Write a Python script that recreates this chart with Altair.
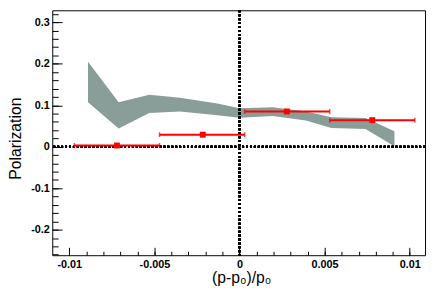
import altair as alt
import pandas as pd

# Band (model prediction)
band_x = [-0.0089, -0.0071, -0.0053, -0.0035, -0.0013, 0.0, 0.00195, 0.0039, 0.0054, 0.0074, 0.0091]
band_lo = [0.107, 0.044, 0.081, 0.085, 0.076, 0.070, 0.074, 0.063, 0.045, 0.043, 0.001]
band_hi = [0.205, 0.107, 0.125, 0.118, 0.104, 0.093, 0.095, 0.085, 0.071, 0.069, 0.037]

# Data points
pt_x = [-0.0072, -0.00216, 0.00278, 0.0078]
pt_y = [0.003, 0.029, 0.085, 0.064]
pt_xlo = [-0.0097, -0.0047, 0.0003, 0.0053]
pt_xhi = [-0.0047, 0.0003, 0.0053, 0.0103]

# Axis ticks
y_major = [-0.2, -0.1, 0, 0.1, 0.2, 0.3]
y_minor = [round(-0.26 + 0.02 * i, 2) for i in range(30) if -0.26 + 0.02 * i <= 0.33]
x_major = [-0.01, -0.005, 0, 0.005, 0.01]
x_minor = [round(-0.01 + 0.001 * i, 3) for i in range(21)]

XDOM = [-0.011, 0.0109]
YDOM = [-0.2614, 0.3287]
W, H = 379, 249

band = pd.DataFrame({"x": band_x, "lo": band_lo, "hi": band_hi})
pts = pd.DataFrame({"x": pt_x, "y": pt_y, "xlo": pt_xlo, "xhi": pt_xhi})

xs = alt.Scale(domain=XDOM, nice=False, zero=False)
ys = alt.Scale(domain=YDOM, nice=False, zero=False)

FONT = "Liberation Sans"
RED = "#ff0000"

lab_common = dict(domain=False, ticks=False, grid=False, labelFont=FONT, labelFontSize=11,
                  labelFontWeight="bold", labelColor="black", titleFont=FONT,
                  titleFontSize=16, titleFontWeight="normal", titleColor="black")

x_lab_axis = alt.Axis(values=x_major, labelExpr="'' + datum.value", labelPadding=3,
                      title="(p-p₀)/p₀", titleX=192, titleY=28, titleAlign="center",
                      titleBaseline="alphabetic", labelFlush=False, labelOverlap=False, **lab_common)
y_lab_axis = alt.Axis(values=y_major, labelExpr="'' + datum.value", labelPadding=3,
                      title="Polarization", titleX=-32, titleY=130, titleAngle=270,
                      titleAlign="center", titleBaseline="alphabetic", labelOverlap=False, **lab_common)

tick_common = dict(domain=False, labels=False, grid=False, tickColor="black", tickWidth=1, title=None)
x_maj_axis = alt.Axis(orient="top", offset=-H, values=x_major, tickSize=8, **tick_common)
x_min_axis = alt.Axis(orient="top", offset=-H, values=x_minor, tickSize=4, **tick_common)
y_maj_axis = alt.Axis(orient="right", offset=-W, values=y_major, tickSize=10, **tick_common)
y_min_axis = alt.Axis(orient="right", offset=-W, values=y_minor, tickSize=6, **tick_common)

area = alt.Chart(band).mark_area(color="#899d99", opacity=1).encode(
    x=alt.X("x:Q", scale=xs, axis=x_lab_axis),
    y=alt.Y("lo:Q", scale=ys, axis=y_lab_axis),
    y2="hi:Q",
)

hline = alt.Chart(band).mark_rule(color="black", strokeDash=[2, 2], strokeWidth=2).encode(
    y=alt.YDatum(0, scale=ys, axis=None)
)
vline = alt.Chart(band).mark_rule(color="black", strokeDash=[2, 2], strokeWidth=2).encode(
    x=alt.XDatum(0, scale=xs, axis=None)
)

bars = alt.Chart(pts).mark_rule(color=RED, strokeWidth=2).encode(
    x=alt.X("xlo:Q", scale=xs, axis=x_maj_axis),
    x2="xhi:Q",
    y=alt.Y("y:Q", scale=ys, axis=y_maj_axis),
)
caps_lo = alt.Chart(pts).mark_tick(color=RED, orient="vertical", size=5, thickness=1.5).encode(
    x=alt.X("xlo:Q", scale=xs, axis=x_min_axis),
    y=alt.Y("y:Q", scale=ys, axis=y_min_axis),
)
caps_hi = alt.Chart(pts).mark_tick(color=RED, orient="vertical", size=5, thickness=1.5).encode(
    x=alt.X("xhi:Q", scale=xs, axis=None),
    y=alt.Y("y:Q", scale=ys, axis=None),
)
points = alt.Chart(pts).mark_square(color=RED, size=36, opacity=1).encode(
    x=alt.X("x:Q", scale=xs, axis=None),
    y=alt.Y("y:Q", scale=ys, axis=None),
)

chart = alt.layer(area, hline, vline, bars, caps_lo, caps_hi, points).resolve_axis(
    x="independent", y="independent"
).properties(
    width=W, height=H,
    autosize=alt.AutoSizeParams(type="none"),
    padding={"left": 45, "top": 0, "right": 3, "bottom": 32},
).configure_view(stroke="black", strokeWidth=1)

chart.save("out.html", embed_options={"renderer": "svg", "actions": False})
